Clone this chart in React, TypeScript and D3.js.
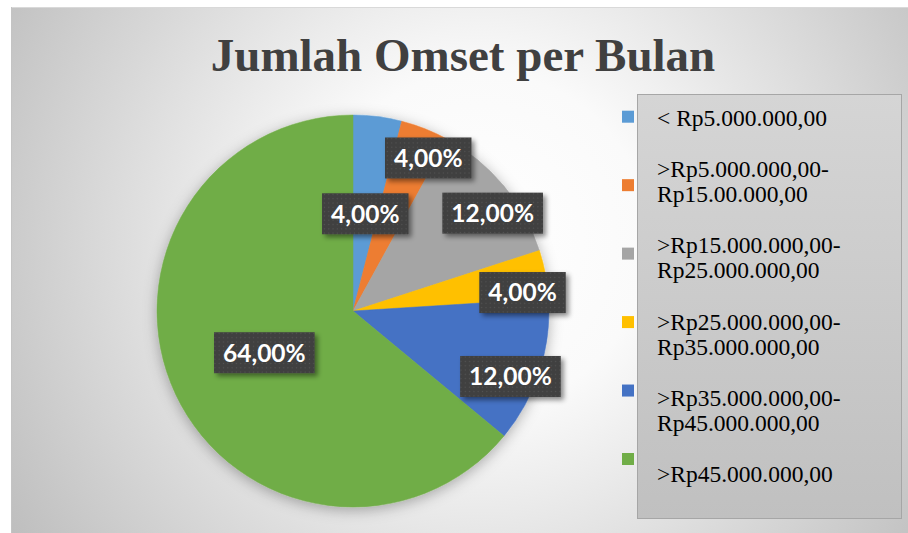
import React, { useEffect, useRef } from "react";
import * as d3 from "d3";

// kategori omset dan persentase responden
const categories = [
  "< Rp5.000.000,00",
  ">Rp5.000.000,00-Rp15.00.000,00",
  ">Rp15.000.000,00-Rp25.000.000,00",
  ">Rp25.000.000,00-Rp35.000.000,00",
  ">Rp35.000.000,00-Rp45.000.000,00",
  ">Rp45.000.000,00",
];
const percents = [4, 4, 12, 4, 12, 64];
const colors = ["#5B9BD5", "#ED7D31", "#A5A5A5", "#FFC000", "#4472C4", "#70AD47"];
const title = "Jumlah Omset per Bulan";

// Excel "best fit": small/crowded slices get their label pushed to the rim
const labelAtRim = [false, true, true, true, true, false];

const W = 908;
const H = 533;
const SERIF = "Liberation Serif, Times New Roman, DejaVu Serif, serif";

export default function App() {
  const ref = useRef<SVGSVGElement>(null);

  useEffect(() => {
    const svg = d3.select(ref.current);
    svg.selectAll("*").remove();

    const defs = svg.append("defs");
    const bg = defs.append("radialGradient").attr("id", "bg")
      .attr("gradientUnits", "userSpaceOnUse")
      .attr("cx", 480).attr("cy", 240).attr("r", 560);
    bg.append("stop").attr("offset", 0).attr("stop-color", "#ffffff");
    bg.append("stop").attr("offset", 0.3).attr("stop-color", "#fafafa");
    bg.append("stop").attr("offset", 1).attr("stop-color", "#bdbdbd");

    const lg = defs.append("linearGradient").attr("id", "lg")
      .attr("x1", 0).attr("y1", 0).attr("x2", 0).attr("y2", 1);
    lg.append("stop").attr("offset", 0).attr("stop-color", "#d5d5d5");
    lg.append("stop").attr("offset", 1).attr("stop-color", "#c0c0c0");

    const pat = defs.append("pattern").attr("id", "dots")
      .attr("width", 4.3).attr("height", 4.3).attr("patternUnits", "userSpaceOnUse");
    pat.append("rect").attr("width", 4.3).attr("height", 4.3).attr("fill", "#3f3f3f");
    pat.append("rect").attr("x", 1.5).attr("y", 1.5).attr("width", 1.3).attr("height", 1.3).attr("fill", "#535353");

    const pieShadow = defs.append("filter").attr("id", "pieShadow")
      .attr("x", "-20%").attr("y", "-20%").attr("width", "140%").attr("height", "140%");
    pieShadow.append("feDropShadow").attr("dx", 0).attr("dy", 3).attr("stdDeviation", 7)
      .attr("flood-color", "#000").attr("flood-opacity", 0.3);

    const boxShadow = defs.append("filter").attr("id", "boxShadow")
      .attr("x", "-20%").attr("y", "-20%").attr("width", "140%").attr("height", "160%");
    boxShadow.append("feDropShadow").attr("dx", 3).attr("dy", 3).attr("stdDeviation", 2.5)
      .attr("flood-color", "#000").attr("flood-opacity", 0.45);

    // chart area
    svg.append("rect").attr("x", 11).attr("y", 7).attr("width", W - 11).attr("height", H - 7)
      .attr("fill", "url(#bg)");
    svg.append("line").attr("x1", 11).attr("x2", W).attr("y1", 7.5).attr("y2", 7.5)
      .attr("stroke", "#d9d9d9");
    svg.append("line").attr("x1", 11.5).attr("x2", 11.5).attr("y1", 7).attr("y2", H)
      .attr("stroke", "#c4c4c4");

    svg.append("text").attr("x", 463).attr("y", 71).attr("text-anchor", "middle")
      .style("font-family", SERIF)
      .attr("font-weight", "bold").attr("font-size", 47).attr("fill", "#404040")
      .text(title);

    // pie
    const cx = 353, cy = 311, R = 196;
    const pie = d3.pie<number>().sort(null).value((d) => d);
    const arcs = pie(percents);
    const arc = d3.arc<d3.PieArcDatum<number>>().innerRadius(0).outerRadius(R);

    const g = svg.append("g").attr("transform", `translate(${cx},${cy})`);
    g.append("g").attr("filter", "url(#pieShadow)")
      .selectAll("path").data(arcs).enter().append("path")
      .attr("d", arc)
      .attr("fill", (d, i) => colors[i])
      .attr("stroke", (d, i) => colors[i]).attr("stroke-width", 0.5);

    // data labels
    const fmt = (v: number) => d3.format(".2f")(v).replace(".", ",") + "%";
    const rim = d3.arc<d3.PieArcDatum<number>>().innerRadius(R * 0.84).outerRadius(R * 0.9);

    arcs.forEach((a, i) => {
      let [lx, ly] = arc.centroid(a);
      if (labelAtRim[i]) {
        const shifted = { ...a, startAngle: a.startAngle + 0.08, endAngle: a.endAngle + 0.08 };
        [lx, ly] = rim.centroid(shifted);
      }
      const txt = fmt(percents[i]);
      const lbl = g.append("g").attr("transform", `translate(${lx},${ly})`);
      const rect = lbl.append("rect").attr("filter", "url(#boxShadow)").attr("fill", "url(#dots)");
      const t = lbl.append("text").attr("text-anchor", "middle").attr("dy", "0.36em")
        .style("font-family", "Lato, Open Sans, sans-serif").attr("font-weight", "bold")
        .attr("font-size", 24.5).attr("fill", "#ffffff").text(txt);
      const bw = (t.node() as SVGTextElement).getComputedTextLength() + 18;
      const bh = 41;
      rect.attr("x", -bw / 2).attr("y", -bh / 2).attr("width", bw).attr("height", bh);
    });

    // legend
    const lx0 = 637, ly0 = 94, lw = 264, lh = 424;
    svg.append("rect").attr("x", lx0 + 0.5).attr("y", ly0 + 0.5).attr("width", lw).attr("height", lh)
      .attr("fill", "url(#lg)").attr("stroke", "#a6a6a6");

    const my = d3.scalePoint<string>().domain(categories).range([116.7, 459]);
    svg.append("g").selectAll("rect").data(categories).enter().append("rect")
      .attr("x", 622).attr("y", (d) => (my(d) as number) - 6)
      .attr("width", 12).attr("height", 12)
      .attr("fill", (d, i) => colors[i]);

    const lineH = 25, entryGap = 26.3;
    let baseline = 125.7;
    categories.forEach((c) => {
      const lines = c.split(/(?<=-)/);
      const t = svg.append("text").attr("x", 657)
        .style("font-family", SERIF)
        .attr("font-size", 23.5).attr("fill", "#000");
      lines.forEach((ln, j) => {
        t.append("tspan").attr("x", 657).attr("y", baseline + j * lineH).text(ln);
      });
      baseline += lines.length * lineH + entryGap;
    });
  }, []);

  return (
    <svg ref={ref} width={W} height={H}
      style={{ position: "absolute", left: 0, top: 0, background: "#fff" }} />
  );
}
